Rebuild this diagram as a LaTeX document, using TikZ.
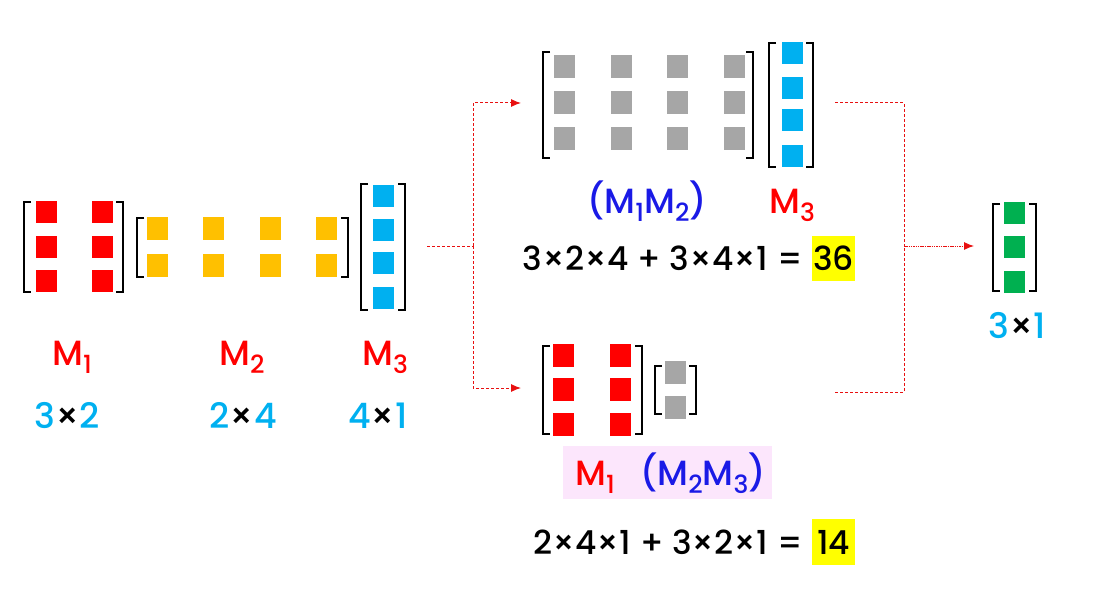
\documentclass[tikz,border=0pt]{standalone}
\usepackage{fontspec}
\setmainfont{Poppins Medium}
\usetikzlibrary{arrows.meta,positioning}
\definecolor{cellred}{HTML}{FF0000}
\definecolor{cellgold}{HTML}{FFC000}
\definecolor{cellblue}{HTML}{00B0F0}
\definecolor{cellgray}{HTML}{A6A6A6}
\definecolor{cellgreen}{HTML}{00B050}
\definecolor{namered}{HTML}{FF0000}
\definecolor{nameblue}{HTML}{1A1AE6}
\definecolor{dimblue}{HTML}{00B0F0}
\definecolor{flowred}{HTML}{E81010}
\definecolor{markyellow}{HTML}{FFFF00}
\definecolor{pinkbg}{HTML}{FCE6FC}
\newcommand{\subidx}[1]{\raisebox{-8pt}{\fontsize{25}{25}\selectfont #1}}
\newcommand{\dimtxt}[2]{\textcolor{dimblue}{#1}×\textcolor{dimblue}{#2}}
% brackets: left x, right x, top y, bottom y
\newcommand{\brackets}[4]{%
  \draw[brk] (#1+7,#3) -- (#1,#3) -- (#1,#4) -- (#1+7,#4);
  \draw[brk] (#2-7,#3) -- (#2,#3) -- (#2,#4) -- (#2-7,#4);}
\tikzset{
  cell/.style={minimum width=21pt, minimum height=22pt, inner sep=0pt},
  brk/.style={line width=2pt, black},
  lbl/.style={font=\fontsize{35}{40}\selectfont, inner sep=0pt},
  eqn/.style={font=\fontsize{33}{40}\selectfont, inner sep=0pt},
  flow/.style={flowred, line width=1pt, dash pattern=on 3pt off 2pt},
  tip/.style={-{Latex[length=10pt,width=8pt]}},
  hilite/.style={eqn, fill=markyellow, minimum width=43pt, minimum height=45pt}
}
\begin{document}
\begin{tikzpicture}[x=1pt,y=-1pt]
\useasboundingbox (0,0) rectangle (1102,596);
% input matrices M1 M2 M3
\foreach \x in {46,102} \foreach \y in {212,247,281} \node[cell, fill=cellred] at (\x,\y) {};
\brackets{24}{123}{202}{292}
\foreach \x in {157,213,270,326} \foreach \y in {228,265} \node[cell, fill=cellgold, minimum height=23pt] at (\x,\y) {};
\brackets{137}{348}{218}{277}
\foreach \y in {196,230,263,298} \node[cell, fill=cellblue] at (383,\y) {};
\brackets{361}{405}{184}{310}
\node[lbl, namered, anchor=base] (nameA) at (72,365) {M\subidx{1}};
\node[lbl, namered, anchor=base] (nameB) at (242,365) {M\subidx{2}};
\node[lbl, namered, anchor=base] (nameC) at (385,365) {M\subidx{3}};
\node[lbl, anchor=base] (dimA) at (67,428) {\dimtxt{3}{2}};
\node[lbl, anchor=base] (dimB) at (243,428) {\dimtxt{2}{4}};
\node[lbl, anchor=base] (dimC) at (378,428) {\dimtxt{4}{1}};
% upper order (M1M2)M3
\foreach \x in {564,621,677,734} \foreach \y in {67,103,139} \node[cell, fill=cellgray, minimum height=23pt] at (\x,\y) {};
\brackets{543}{753}{52}{158}
\foreach \y in {53,88,120,156} \node[cell, fill=cellblue] at (792,\y) {};
\brackets{769}{813}{43}{167}
\node[lbl, nameblue, anchor=base] (nameAB) at (647,213) {(M\subidx{1}M\subidx{2})};
\node[lbl, namered, anchor=base] (nameC2) at (792,213) {M\subidx{3}};
\node[hilite] (hiA) at (833.5,258.5) {36};
\node[eqn, left=9pt of hiA] (eqA) {3×2×4 + 3×4×1 =};
% lower order M1(M2M3)
\foreach \x in {563,620} \foreach \y in {355,389,424} \node[cell, fill=cellred, minimum height=23pt] at (\x,\y) {};
\brackets{543}{642}{346}{434}
\foreach \y in {372,407} \node[cell, fill=cellgray, minimum height=23pt] at (675,\y) {};
\brackets{655}{696}{366}{414}
\node[fill=pinkbg, minimum width=209pt, minimum height=53pt, inner sep=0pt] (pbox) at (667.5,472.5) {};
\node[lbl, namered, anchor=base] (nameA2) at (595,485) {M\subidx{1}};
\node[lbl, nameblue, anchor=base] (nameBC) at (703,485) {(M\subidx{2}M\subidx{3})};
\node[hilite, minimum height=46pt] (hiB) at (833.5,542) {14};
\node[eqn, left=9pt of hiB] (eqB) {2×4×1 + 3×2×1 =};
% result
\foreach \y in {213,247,282} \node[cell, fill=cellgreen] at (1014,\y) {};
\brackets{993}{1036}{204}{291}
\node[lbl, anchor=base] (dimR) at (1017,338) {\dimtxt{3}{1}};
% connectors
\coordinate (srcOut) at (427,246);
\coordinate (fork) at (473,246);
\coordinate (topIn) at (521,103);
\coordinate (botIn) at (521,388);
\coordinate (topOut) at (835,103);
\coordinate (botOut) at (835,392);
\coordinate (join) at (904,246);
\coordinate (resIn) at (974,246);
\draw[flow] (srcOut) -- (fork);
\draw[flow, tip] (fork) |- (topIn);
\draw[flow, tip] (fork) |- (botIn);
\draw[flow] (topOut) -| (join);
\draw[flow] (botOut) -| (join);
\draw[flow, tip, dash pattern=on 1.5pt off 0.8pt] (join) -- (resIn);
\end{tikzpicture}
\end{document}
